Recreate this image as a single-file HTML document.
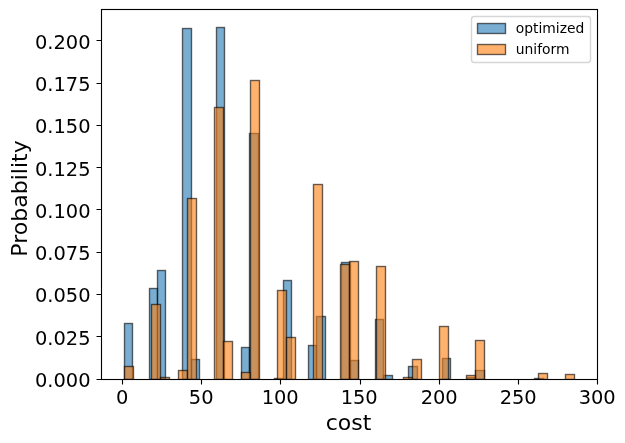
<!DOCTYPE html>
<html><head><meta charset="utf-8"><title>cost histogram</title>
<style>
html,body{margin:0;padding:0;background:#fff;}
body{width:625px;height:443px;overflow:hidden;}
svg{display:block;}
text{font-family:"DejaVu Sans","Liberation Sans",sans-serif;fill:#000;}
.tk{font-size:19.44px;}
.lb{font-size:22px;}
.lg{font-size:13.89px;}
.bb rect{fill:#1f77b4;fill-opacity:.6;stroke:#000;stroke-opacity:.6;stroke-width:1.389;}
.ob rect{fill:#ff7f0e;fill-opacity:.6;stroke:#000;stroke-opacity:.6;stroke-width:1.389;}
.ax{stroke:#000;stroke-width:1.111;fill:none;}
</style></head><body>
<svg width="625" height="443" viewBox="0 0 625 443">
<rect width="625" height="443" fill="#fff"/>
<defs><clipPath id="c"><rect x="101.5" y="9.5" width="496" height="370"/></clipPath></defs>
<g class="bb" clip-path="url(#c)">
<rect x="124.5" y="323.5" width="8.0" height="56.0"/>
<rect x="149.5" y="288.5" width="8.0" height="91.0"/>
<rect x="157.5" y="270.5" width="8.0" height="109.0"/>
<rect x="182.5" y="28.5" width="9.0" height="351.0"/>
<rect x="191.5" y="359.5" width="8.0" height="20.0"/>
<rect x="216.5" y="27.5" width="8.0" height="352.0"/>
<rect x="241.5" y="347.5" width="8.0" height="32.0"/>
<rect x="249.5" y="133.5" width="9.0" height="246.0"/>
<rect x="274.5" y="378.5" width="9.0" height="1.0"/>
<rect x="283.5" y="280.5" width="8.0" height="99.0"/>
<rect x="308.5" y="345.5" width="8.0" height="34.0"/>
<rect x="316.5" y="316.5" width="9.0" height="63.0"/>
<rect x="341.5" y="262.5" width="9.0" height="117.0"/>
<rect x="350.5" y="360.5" width="8.0" height="19.0"/>
<rect x="375.5" y="319.5" width="8.0" height="60.0"/>
<rect x="383.5" y="375.5" width="9.0" height="4.0"/>
<rect x="408.5" y="366.5" width="9.0" height="13.0"/>
<rect x="442.5" y="358.5" width="8.0" height="21.0"/>
<rect x="467.5" y="377.5" width="8.0" height="2.0"/>
<rect x="475.5" y="370.5" width="9.0" height="9.0"/>
<rect x="534.5" y="378.5" width="9.0" height="1.0"/>
</g>
<g class="ob" clip-path="url(#c)">
<rect x="124.5" y="366.5" width="9.0" height="13.0"/>
<rect x="151.5" y="304.5" width="9.0" height="75.0"/>
<rect x="160.5" y="377.5" width="9.0" height="2.0"/>
<rect x="178.5" y="370.5" width="9.0" height="9.0"/>
<rect x="187.5" y="198.5" width="9.0" height="181.0"/>
<rect x="214.5" y="107.5" width="9.0" height="272.0"/>
<rect x="223.5" y="341.5" width="9.0" height="38.0"/>
<rect x="241.5" y="372.5" width="9.0" height="7.0"/>
<rect x="250.5" y="80.5" width="9.0" height="299.0"/>
<rect x="277.5" y="290.5" width="9.0" height="89.0"/>
<rect x="286.5" y="337.5" width="9.0" height="42.0"/>
<rect x="313.5" y="184.5" width="9.0" height="195.0"/>
<rect x="340.5" y="264.5" width="9.0" height="115.0"/>
<rect x="349.5" y="261.5" width="9.0" height="118.0"/>
<rect x="376.5" y="266.5" width="9.0" height="113.0"/>
<rect x="403.5" y="377.5" width="9.0" height="2.0"/>
<rect x="412.5" y="359.5" width="9.0" height="20.0"/>
<rect x="439.5" y="326.5" width="9.0" height="53.0"/>
<rect x="466.5" y="375.5" width="9.0" height="4.0"/>
<rect x="475.5" y="340.5" width="9.0" height="39.0"/>
<rect x="538.5" y="373.5" width="9.0" height="6.0"/>
<rect x="565.5" y="374.5" width="9.0" height="5.0"/>
</g>
<path class="ax" d="M122.5 379.5v5M201.5 379.5v5M280.5 379.5v5M360.5 379.5v5M439.5 379.5v5M518.5 379.5v5M597.5 379.5v5M101.5 379.5h-5M101.5 336.5h-5M101.5 294.5h-5M101.5 252.5h-5M101.5 209.5h-5M101.5 167.5h-5M101.5 125.5h-5M101.5 83.5h-5M101.5 40.5h-5"/>
<rect class="ax" x="101.5" y="9.5" width="496.0" height="370.0"/>
<g class="tk" text-anchor="middle">
<text x="122.2" y="404">0</text>
<text x="201.2" y="404">50</text>
<text x="280.2" y="404">100</text>
<text x="359.2" y="404">150</text>
<text x="439.2" y="404">200</text>
<text x="518.2" y="404">250</text>
<text x="597.2" y="404">300</text>
</g><g class="tk" text-anchor="end">
<text x="90.6" y="386.9">0.000</text>
<text x="90.6" y="344.9">0.025</text>
<text x="90.6" y="301.9">0.050</text>
<text x="90.6" y="259.9">0.075</text>
<text x="90.6" y="217.9">0.100</text>
<text x="90.6" y="175.9">0.125</text>
<text x="90.6" y="132.9">0.150</text>
<text x="90.6" y="90.9">0.175</text>
<text x="90.6" y="48.9">0.200</text>
</g>
<text class="lb" text-anchor="middle" x="348.6" y="430.3">cost</text>
<text class="lb" text-anchor="middle" transform="translate(27.2 198.5) rotate(-90)">Probability</text>
<rect x="471.5" y="16.5" width="119" height="46" rx="2.8" ry="2.8" fill="#fff" fill-opacity=".8" stroke="#ccc" stroke-opacity=".8" stroke-width="1.389"/>
<g class="bb"><rect x="477.5" y="23.5" width="28" height="10"/></g>
<g class="ob"><rect x="477.5" y="44.5" width="28" height="10"/></g>
<text class="lg" x="515.7" y="33.4">optimized</text>
<text class="lg" x="515.7" y="54">uniform</text>
</svg></body></html>
